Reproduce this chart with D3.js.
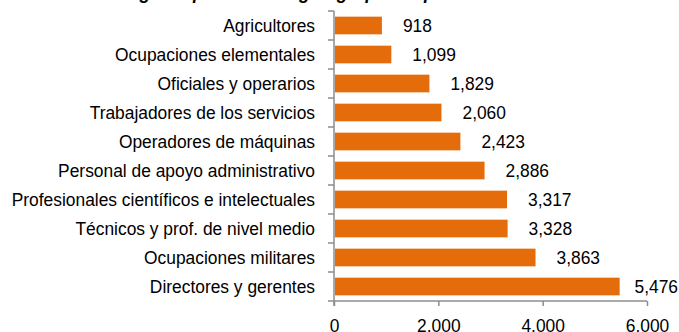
<!DOCTYPE html>
<html>
<head>
<meta charset="utf-8">
<script src="https://cdn.jsdelivr.net/npm/d3@7"></script>
<style>
  html, body { margin: 0; padding: 0; background: #fff; }
  svg { display: block; }
  text { font-family: "Liberation Sans Narrow", "Arial Narrow", "Liberation Sans", Arial, sans-serif; fill: #000; }
</style>
</head>
<body>
<svg id="chart" width="679" height="332"></svg>
<script>
// Occupational groups, top to bottom
const categories = [
  "Agricultores",
  "Ocupaciones elementales",
  "Oficiales y operarios",
  "Trabajadores de los servicios",
  "Operadores de máquinas",
  "Personal de apoyo administrativo",
  "Profesionales científicos e intelectuales",
  "Técnicos y prof. de nivel medio",
  "Ocupaciones militares",
  "Directores y gerentes"
];
const values = [918, 1099, 1829, 2060, 2423, 2886, 3317, 3328, 3863, 5476];
const xTicks = [0, 2000, 4000, 6000];
const titleText = "Ingreso promedio según grupo ocupacional";

const W = 679, H = 332;
const plotLeft = 334, plotRight = 647, plotTop = 11, plotBottom = 301;
const barColor = "#E46C0A";
const axisColor = "#8C8C8C";
const fontSize = 18.5;
const squeeze = 0.94;   // slightly condensed lettering

const svg = d3.select("#chart");

const x = d3.scaleLinear().domain([0, 6000]).range([plotLeft, plotRight]);
const y = d3.scaleBand().domain(categories).range([plotTop, plotBottom])
  .paddingInner(0.39).paddingOuter(0.195);

// place a text at (px, py) with condensed horizontal scale
function place(sel, px, py) {
  sel.attr("transform", (d, i) => `translate(${px(d, i)},${py(d, i)}) scale(${squeeze},1)`);
}

// title (sits partly above the visible area)
svg.append("text")
  .attr("transform", `translate(310,-1) scale(${squeeze},1)`)
  .attr("text-anchor", "middle")
  .style("font-size", "19px")
  .style("font-weight", "bold")
  .style("font-style", "italic")
  .text(titleText);

// bars
svg.append("g").selectAll("rect")
  .data(values)
  .join("rect")
  .attr("x", x(0) + 1)
  .attr("y", (d, i) => y(categories[i]))
  .attr("width", d => x(d) - x(0) - 1)
  .attr("height", y.bandwidth())
  .attr("fill", barColor);

// value labels
const fmt = d3.format(",");
const labels = svg.append("g").selectAll("text")
  .data(values)
  .join("text")
  .attr("dy", "0.35em")
  .style("font-size", fontSize + "px")
  .text(d => fmt(d));
labels.each(function(d, i) {
  const w = this.getComputedTextLength() * squeeze;
  const px = Math.min(x(d) + 21, W - w - 1);
  const py = y(categories[i]) + y.bandwidth() / 2;
  d3.select(this).attr("transform", `translate(${px},${py}) scale(${squeeze},1)`);
});

// category axis
const gy = svg.append("g").attr("transform", `translate(${plotLeft},0)`);
gy.append("line")
  .attr("y1", plotTop).attr("y2", plotBottom + 5)
  .attr("stroke", axisColor).attr("stroke-width", 1.5);
gy.append("g").selectAll("text")
  .data(categories)
  .join("text")
  .attr("dy", "0.35em")
  .attr("text-anchor", "end")
  .style("font-size", fontSize + "px")
  .text(d => d)
  .call(place, () => -19, d => y(d) + y.bandwidth() / 2);
// band separator ticks
const step = (plotBottom - plotTop) / categories.length;
gy.append("g").selectAll("line")
  .data(d3.range(categories.length + 1))
  .join("line")
  .attr("x1", -6).attr("x2", 0)
  .attr("y1", i => plotTop + i * step).attr("y2", i => plotTop + i * step)
  .attr("stroke", axisColor).attr("stroke-width", 1.5);

// value axis
const xAxis = d3.axisBottom(x).tickValues(xTicks).tickFormat(d3.format(",")).tickSize(5).tickPadding(13);
const gx = svg.append("g").attr("transform", `translate(0,${plotBottom})`).call(xAxis);
gx.select(".domain").attr("stroke", axisColor).attr("stroke-width", 1.5).attr("d", `M${plotLeft},0H${plotRight}`);
gx.selectAll(".tick line").attr("stroke", axisColor).attr("stroke-width", 1.5);
gx.attr("font-family", null).attr("font-size", null);
gx.selectAll("text").style("font-size", fontSize + "px").attr("fill", "#000")
  .attr("transform", `scale(${squeeze},1)`);
</script>
</body>
</html>
